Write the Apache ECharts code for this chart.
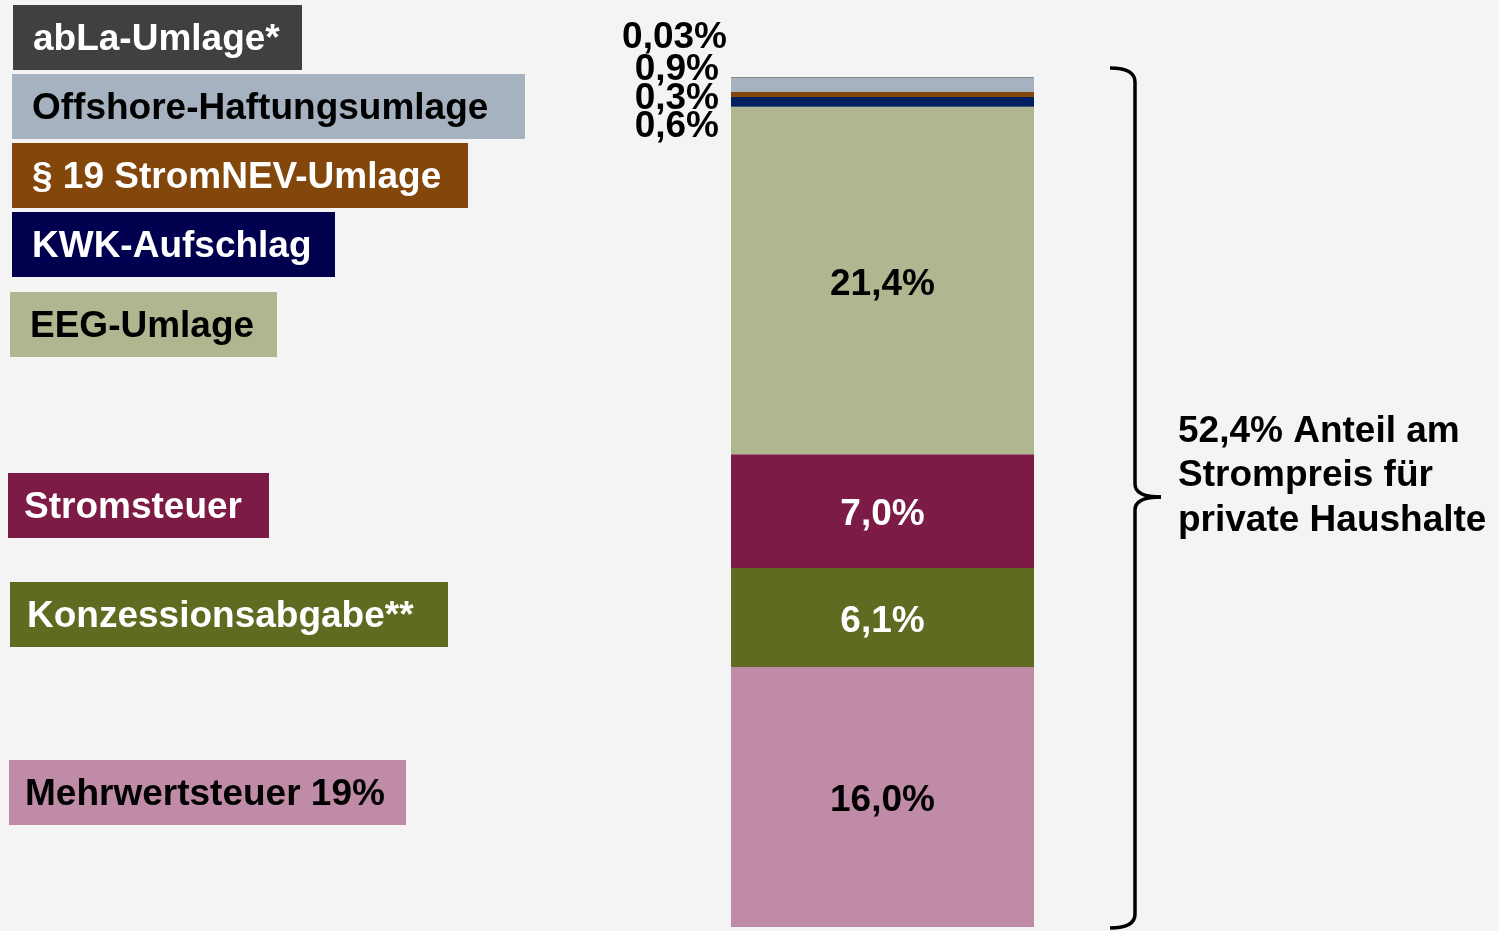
<!DOCTYPE html>
<html>
<head>
<meta charset="utf-8">
<script src="https://cdn.jsdelivr.net/npm/echarts@6/dist/echarts.min.js"></script>
<style>
  html, body { margin: 0; padding: 0; background: #f4f4f4; }
  #main { width: 1499px; height: 931px; }
</style>
</head>
<body>
<div id="main"></div>
<script>
// Stapel von unten nach oben
var names = ['Mehrwertsteuer 19%', 'Konzessionsabgabe**', 'Stromsteuer', 'EEG-Umlage',
  'KWK-Aufschlag', '§ 19 StromNEV-Umlage', 'Offshore-Haftungsumlage', 'abLa-Umlage*']
var values = [16.0, 6.1, 7.0, 21.4, 0.6, 0.3, 0.9, 0.03]
var valueLabels = ['16,0%', '6,1%', '7,0%', '21,4%', '0,6%', '0,3%', '0,9%', '0,03%']
var totalLabel = ['52,4% Anteil am', 'Strompreis für', 'private Haushalte']

var colors = ['#c08ba6', '#606b21', '#7d1b47', '#b0b690', '#002060', '#83470c', '#a6b2c0', '#404040']
var legendColors = ['#c08ba6', '#606b21', '#7d1b47', '#b0b690', '#00004f', '#83470c', '#a6b2c0', '#404040']
var legendText = ['#000', '#fff', '#fff', '#000', '#fff', '#fff', '#000', '#fff']
// Kasten links: x, y, Breite, Textabstand
var boxes = [[9, 760, 397, 16], [10, 582, 438, 17], [8, 473, 261, 16], [10, 292, 267, 20],
  [12, 212, 323, 20], [12, 143, 456, 20], [12, 74, 513, 20], [13, 5, 289, 20]]
// Beschriftung neben dem Balken (kleine Werte)
var sideOffsets = { 4: [12, 25], 5: [12, 4], 6: [12, -15], 7: [4, -39] }

var font = '"Liberation Sans", Arial, sans-serif'
var chart = echarts.init(document.getElementById('main'))

var series = values.map(function(v, i) {
  var small = sideOffsets[i] !== undefined
  return {
    name: names[i],
    type: 'bar',
    stack: 'total',
    barWidth: '100%',
    data: [v],
    itemStyle: { color: colors[i] },
    silent: true,
    label: {
      show: true,
      position: small ? 'left' : 'inside',
      distance: small ? sideOffsets[i][0] : 5,
      offset: small ? [0, sideOffsets[i][1]] : [0, 4],
      formatter: function() { return valueLabels[i] },
      fontFamily: font,
      fontWeight: 'bold',
      fontSize: 37,
      color: (i === 1 || i === 2) ? '#fff' : '#000'
    }
  }
})

var graphics = []
boxes.forEach(function(b, i) {
  graphics.push({
    type: 'rect',
    shape: { x: b[0], y: b[1], width: b[2], height: 65 },
    style: { fill: legendColors[i] },
    silent: true
  })
  graphics.push({
    type: 'text',
    x: b[0] + b[3],
    y: b[1] + 35,
    style: {
      text: names[i],
      fill: legendText[i],
      font: 'bold 37px ' + font,
      textVerticalAlign: 'middle'
    },
    silent: true
  })
})

// geschweifte Klammer
var braceStyle = { stroke: '#000', lineWidth: 3.5, fill: null }
var braceParts = [
  { type: 'bezierCurve', shape: { x1: 1110, y1: 68, cpx1: 1135, cpy1: 68, x2: 1135, y2: 82 } },
  { type: 'line', shape: { x1: 1135, y1: 82, x2: 1135, y2: 484 } },
  { type: 'bezierCurve', shape: { x1: 1135, y1: 484, cpx1: 1135, cpy1: 497, x2: 1161, y2: 497 } },
  { type: 'bezierCurve', shape: { x1: 1161, y1: 497, cpx1: 1135, cpy1: 497, x2: 1135, y2: 510 } },
  { type: 'line', shape: { x1: 1135, y1: 510, x2: 1135, y2: 914 } },
  { type: 'bezierCurve', shape: { x1: 1135, y1: 914, cpx1: 1135, cpy1: 928, x2: 1110, y2: 928 } }
]
braceParts.forEach(function(p) {
  p.style = braceStyle
  p.silent = true
  graphics.push(p)
})

graphics.push({
  type: 'text',
  x: 1178,
  y: 476,
  style: {
    text: totalLabel.join('\n'),
    fill: '#000',
    font: 'bold 37px ' + font,
    lineHeight: 44.5,
    textVerticalAlign: 'middle'
  },
  silent: true
})

chart.setOption({
  backgroundColor: '#f4f4f4',
  animation: false,
  grid: { left: 731, width: 303, top: 77, bottom: 4 },
  xAxis: {
    type: 'category',
    data: ['Anteil'],
    show: false
  },
  yAxis: {
    type: 'value',
    min: 0,
    max: function(v) { return v.max },
    show: false
  },
  series: series,
  graphic: graphics
})
</script>
</body>
</html>
